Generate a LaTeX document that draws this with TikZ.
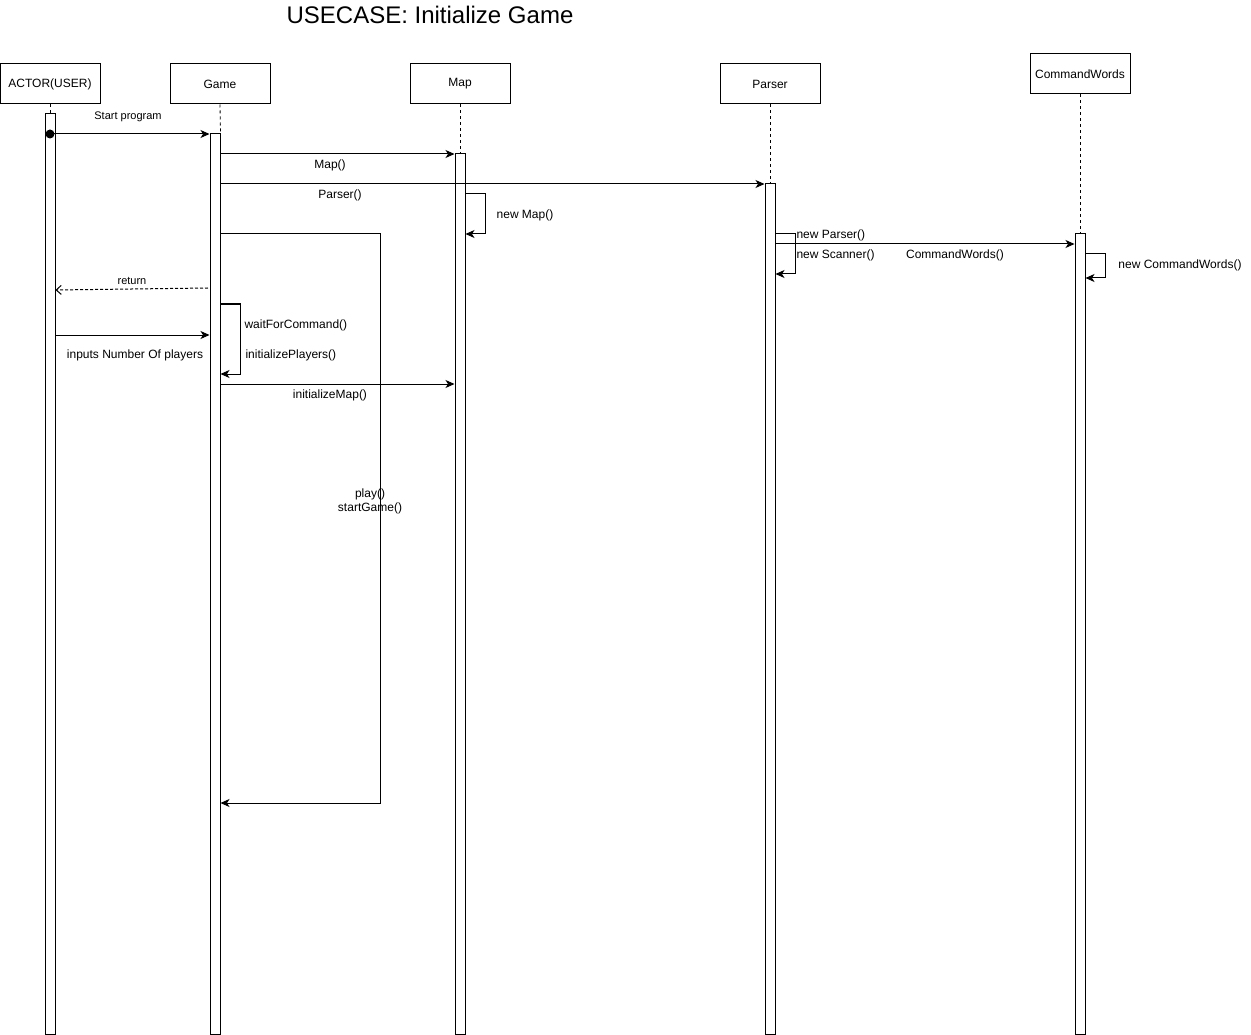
\documentclass[tikz,border=0pt]{standalone}
\usepackage{fontspec}
\setmainfont{Liberation Sans}
\usetikzlibrary{arrows.meta}
\begin{document}
\begin{tikzpicture}[x=1pt,y=-1pt,line width=1pt,
  head/.style={draw,fill=white,minimum width=100pt,minimum height=40pt,inner sep=0pt,font=\fontsize{12}{14}\selectfont},
  act/.style={draw,fill=white,minimum width=10pt,inner sep=0pt},
  life/.style={line width=0.8pt,dash pattern=on 3pt off 3pt},
  msg/.style={-{Stealth[length=9pt,width=8pt,inset=2.5pt]}},
  ret/.style={dash pattern=on 3pt off 2pt,-{Straight Barb[length=5pt,width=9pt]}},
  lbl/.style={font=\fontsize{12}{14}\selectfont,inner sep=0pt,yshift=-1.5pt},
  slbl/.style={font=\fontsize{11}{13}\selectfont,inner sep=0pt,yshift=-1.5pt}]
\useasboundingbox (0,0) rectangle (1251,1035);
\fill[white] (0,0) rectangle (1251,1035);

\node[font=\fontsize{24}{28}\selectfont,inner sep=0pt] (title) at (430,15) {USECASE: Initialize Game};

% header boxes
\node[head] (actor) at (50,84) {ACTOR(USER)};
\node[head] (game) at (220,84) {Game};
\node[head] (map) at (460,84) {Map};
\node[head] (parser) at (770,84) {Parser};
\node[head] (cw) at (1080,74) {CommandWords};

% activations
\node[act,minimum height=920pt] (actorA) at (50,574) {};
\node[act,minimum height=900pt] (gameA) at (215,584) {};
\node[act,minimum height=880pt] (mapA) at (460,594) {};
\node[act,minimum height=850pt] (parserA) at (770,609) {};
\node[act,minimum height=800pt] (cwA) at (1080,634) {};

% lifelines
\draw[life] (actor.south) -- (actorA.north);
\draw[life] (game.south) -- (gameA.north east);
\draw[life] (map.south) -- (mapA.north);
\draw[life] (parser.south) -- (parserA.north);
\draw[life] (cw.south) -- (cwA.north);

% Start program
\fill (actorA.center |- 0,134) circle (4.5pt);
\draw[msg] (actorA.center |- 0,134) -- (gameA.west |- 0,134);
\node[slbl] (l1) at (128,115) {Start program};

% Map()
\draw[msg] (gameA.east |- 0,154) -- (mapA.west |- 0,154);
\node[lbl] (l2) at (330,164) {Map()};

% Parser()
\draw[msg] (gameA.east |- 0,184) -- (parserA.west |- 0,184);
\node[lbl] (l3) at (340,194) {Parser()};

% new Map()
\draw[msg] (mapA.east |- 0,194) -- (485,194) -- (485,234) -- (mapA.east |- 0,234);
\node[lbl] (l4) at (525,214) {new Map()};

% play loop
\draw[msg] (gameA.east |- 0,234) -- (380,234) -- (380,803) -- (gameA.east |- 0,803);
\node[lbl,align=center] (l5) at (370,500) {play()\\startGame()};

% return
\draw[ret] (208,288) -- (actorA.east |- 0,290);
\node[slbl] (l6) at (132,279) {return};

% self loop game
\draw[msg] (gameA.east |- 0,304) -- (240,304) -- (240,374) -- (gameA.east |- 0,374);
\node[lbl,anchor=west] (l7) at (244,324) {waitForCommand()};
\node[lbl,anchor=west] (l8) at (245,354) {initializePlayers()};

% inputs
\draw[msg] (actorA.east |- 0,335) -- (gameA.west |- 0,335);
\node[lbl] (l9) at (135,354) {inputs Number Of players};

% initializeMap
\draw[msg] (gameA.east |- 0,384) -- (mapA.west |- 0,384);
\node[lbl] (l10) at (330,394) {initializeMap()};

% parser self loop
\draw[msg] (parserA.east |- 0,234) -- (795,234) -- (795,274) -- (parserA.east |- 0,274);
\node[lbl,anchor=west] (l11) at (796,234) {new Parser()};
\node[lbl,anchor=west] (l12) at (796,254) {new Scanner()};

% CommandWords()
\draw[msg] (parserA.east |- 0,244) -- (cwA.west |- 0,244);
\node[lbl] (l13) at (955,254) {CommandWords()};

% cw self loop
\draw[msg] (cwA.east |- 0,254) -- (1105,254) -- (1105,278) -- (cwA.east |- 0,278);
\node[lbl] (l14) at (1180,264) {new CommandWords()};
\end{tikzpicture}
\end{document}
